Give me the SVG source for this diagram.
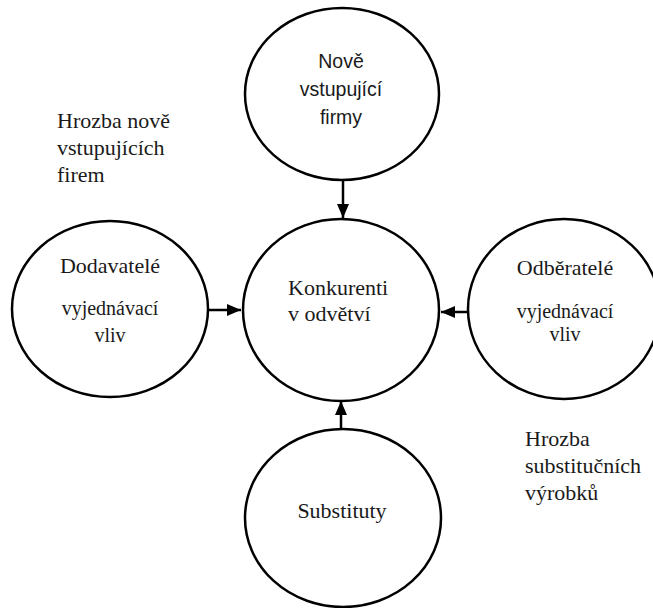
<svg xmlns="http://www.w3.org/2000/svg" width="653" height="608" viewBox="0 0 653 608">
<style>
.n{fill:#fff;stroke:#000;stroke-width:2.5}
.s{font-family:'Liberation Serif','Times New Roman','DejaVu Serif',serif;font-size:22px;fill:#1a1a1a}
.ss{font-family:'Liberation Serif','Times New Roman','DejaVu Serif',serif;font-size:20px;fill:#1a1a1a}
.sa{font-family:'Liberation Sans',Arial,sans-serif;font-size:19.5px;fill:#1a1a1a}
.c{stroke:#000;stroke-width:2.5;fill:none}
</style>
<defs>
<marker id="ah" markerUnits="userSpaceOnUse" markerWidth="14" markerHeight="14" viewBox="0 0 14 14" refX="14" refY="7" orient="auto">
<path d="M0,1 L14,7 L0,13 Z" fill="#000"/>
</marker>
</defs>
<rect width="653" height="608" fill="#fff"/>
<g id="connectors">
<line class="c" x1="343" y1="180" x2="343" y2="218" marker-end="url(#ah)"/>
<line class="c" x1="208" y1="310" x2="241" y2="310" marker-end="url(#ah)"/>
<line class="c" x1="468" y1="312" x2="441" y2="312" marker-end="url(#ah)"/>
<line class="c" x1="341" y1="429" x2="341" y2="401" marker-end="url(#ah)"/>
</g>
<g id="nove">
<ellipse class="n" cx="342" cy="94" rx="97" ry="86"/>
<text class="sa" text-anchor="middle"><tspan x="341" y="68">Nově</tspan><tspan x="341" y="96">vstupující</tspan><tspan x="341" y="124">firmy</tspan></text>
</g>
<g id="hrozba-nove">
<text class="s" font-family="Liberation Serif, serif"><tspan x="57" y="128">Hrozba nově</tspan><tspan x="57" y="155">vstupujících</tspan><tspan x="57" y="182">firem</tspan></text>
</g>
<g id="konkurenti">
<ellipse class="n" cx="341" cy="310" rx="98" ry="91"/>
<text class="s"><tspan x="288" y="295">Konkurenti</tspan><tspan x="288" y="321">v odvětví</tspan></text>
</g>
<g id="dodavatele">
<ellipse class="n" cx="110" cy="309" rx="98" ry="88"/>
<text class="s" text-anchor="middle" x="110" y="273">Dodavatelé</text>
<text class="ss" text-anchor="middle"><tspan x="110" y="315">vyjednávací</tspan><tspan x="110" y="342">vliv</tspan></text>
</g>
<g id="odberatele">
<ellipse class="n" cx="564" cy="309" rx="96" ry="90"/>
<text class="s" text-anchor="middle" x="565" y="275">Odběratelé</text>
<text class="ss" text-anchor="middle"><tspan x="565" y="318">vyjednávací</tspan><tspan x="565" y="341">vliv</tspan></text>
</g>
<g id="substituty">
<ellipse class="n" cx="343" cy="518" rx="98" ry="89"/>
<text class="s" text-anchor="middle" x="342" y="518">Substituty</text>
</g>
<g id="hrozba-substituci">
<text class="s"><tspan x="525" y="446">Hrozba</tspan><tspan x="525" y="473">substitučních</tspan><tspan x="525" y="500">výrobků</tspan></text>
</g>
</svg>
